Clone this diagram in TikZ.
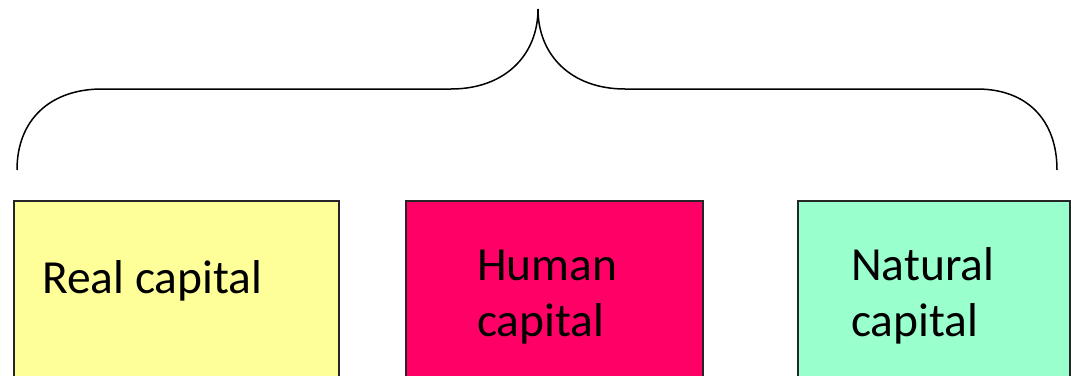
\documentclass[tikz,border=0pt]{standalone}
\usepackage{fontspec}
\setmainfont{Carlito}
\definecolor{paleyellow}{RGB}{255,255,153}
\definecolor{hotpink}{RGB}{255,0,102}
\definecolor{mintgreen}{RGB}{153,255,204}
\usetikzlibrary{calc, positioning}

\begin{document}
\begin{tikzpicture}[x=1pt, y=-1pt,
  capbox/.style={draw=black!85, line width=1.5pt, anchor=north west,
    minimum height=200pt, inner sep=0pt},
  caption/.style={font=\fontsize{47.5}{56}\selectfont, align=left,
    anchor=base west, inner sep=0pt},
  brace/.style={draw, line width=1.5pt},
]
  \useasboundingbox (0,0) rectangle (1071,375);
  \clip (0,0) rectangle (1071,375);
  \node[capbox, fill=paleyellow, minimum width=325pt] (real) at (13,200) {};
  \node[capbox, fill=hotpink, minimum width=297pt] (human) at (405,200) {};
  \node[capbox, fill=mintgreen, minimum width=272pt] (natural) at (797,200) {};
  \node[caption] (realtxt) at (42,293) {Real capital};
  \node[caption] (humantxt) at (477,336) {Human\\capital};
  \node[caption] (naturaltxt) at (851,336) {Natural\\capital};
  \draw[brace] (17,170) .. controls (17,120) and (50,89) .. (102,89) -- (451,89)
    .. controls (505,89) and (538,55) .. (538,9)
    .. controls (538,55) and (571,89) .. (625,89) -- (977,89)
    .. controls (1027,89) and (1057,120) .. (1057,170);
\end{tikzpicture}
\end{document}
